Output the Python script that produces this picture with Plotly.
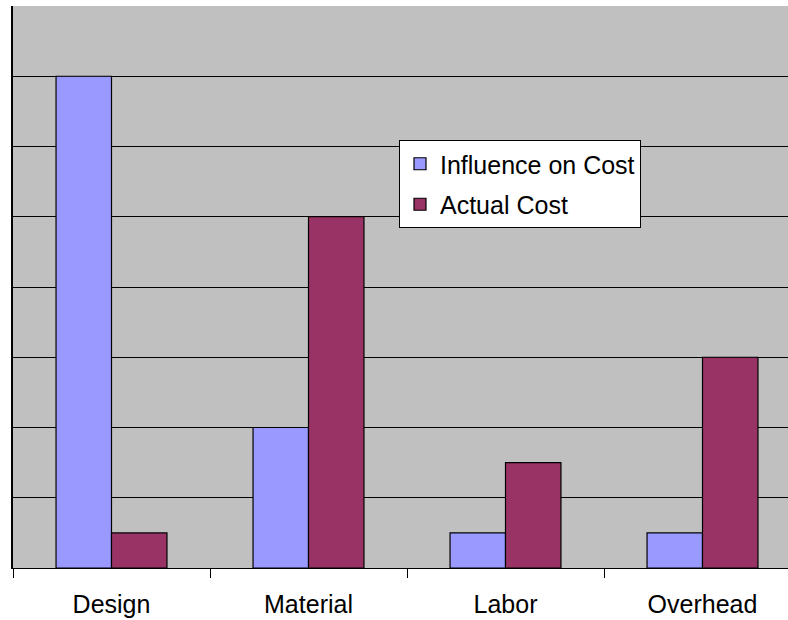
import plotly.graph_objects as go

categories = ["Design", "Material", "Labor", "Overhead"]
influence_on_cost = [7, 2, 0.5, 0.5]
actual_cost = [0.5, 5, 1.5, 3]

W, H = 788, 620
ml, mr, mt, mb = 13, 0, 6, 52

fig = go.Figure()
fig.add_trace(go.Bar(
    x=categories, y=influence_on_cost, name="Influence on Cost",
    legendgroup="a",
    marker=dict(color="#9999FF", line=dict(color="#000000", width=1.2)),
))
fig.add_trace(go.Bar(
    x=categories, y=actual_cost, name="Actual Cost",
    legendgroup="b",
    marker=dict(color="#993366", line=dict(color="#000000", width=1.2)),
))

plot_w = W - ml - mr
cat_w = 197.0
fig.update_layout(
    width=W, height=H,
    margin=dict(l=ml, r=mr, t=mt, b=mb, pad=0),
    paper_bgcolor="white", plot_bgcolor="#C0C0C0",
    barmode="group", bargap=0.437, bargroupgap=0,
    font=dict(family="Liberation Sans, Arial, sans-serif", size=25, color="#000000"),
    showlegend=True,
    legend=dict(
        x=(399 - ml) / plot_w, xanchor="left",
        y=(568 - 140) / (H - mt - mb), yanchor="top",
        bgcolor="white", bordercolor="black", borderwidth=1,
        font=dict(size=25),
        tracegroupgap=5,
    ),
    xaxis=dict(
        range=[-0.5, -0.5 + plot_w / cat_w],
        showline=True, linecolor="black", linewidth=1,
        ticks="outside", tickson="boundaries", ticklen=9, tickcolor="black",
        ticklabelstandoff=14,
        showgrid=False, zeroline=False,
    ),
    yaxis=dict(
        range=[0, 8], dtick=1,
        showline=True, linecolor="black", linewidth=1.5,
        showgrid=True, gridcolor="black", gridwidth=1.2,
        showticklabels=False, ticks="", zeroline=False,
    ),
)

fig.write_html(
    "out.html",
    config={"displayModeBar": False},
    post_script="document.body.style.margin='0';document.body.style.overflow='hidden';",
)
